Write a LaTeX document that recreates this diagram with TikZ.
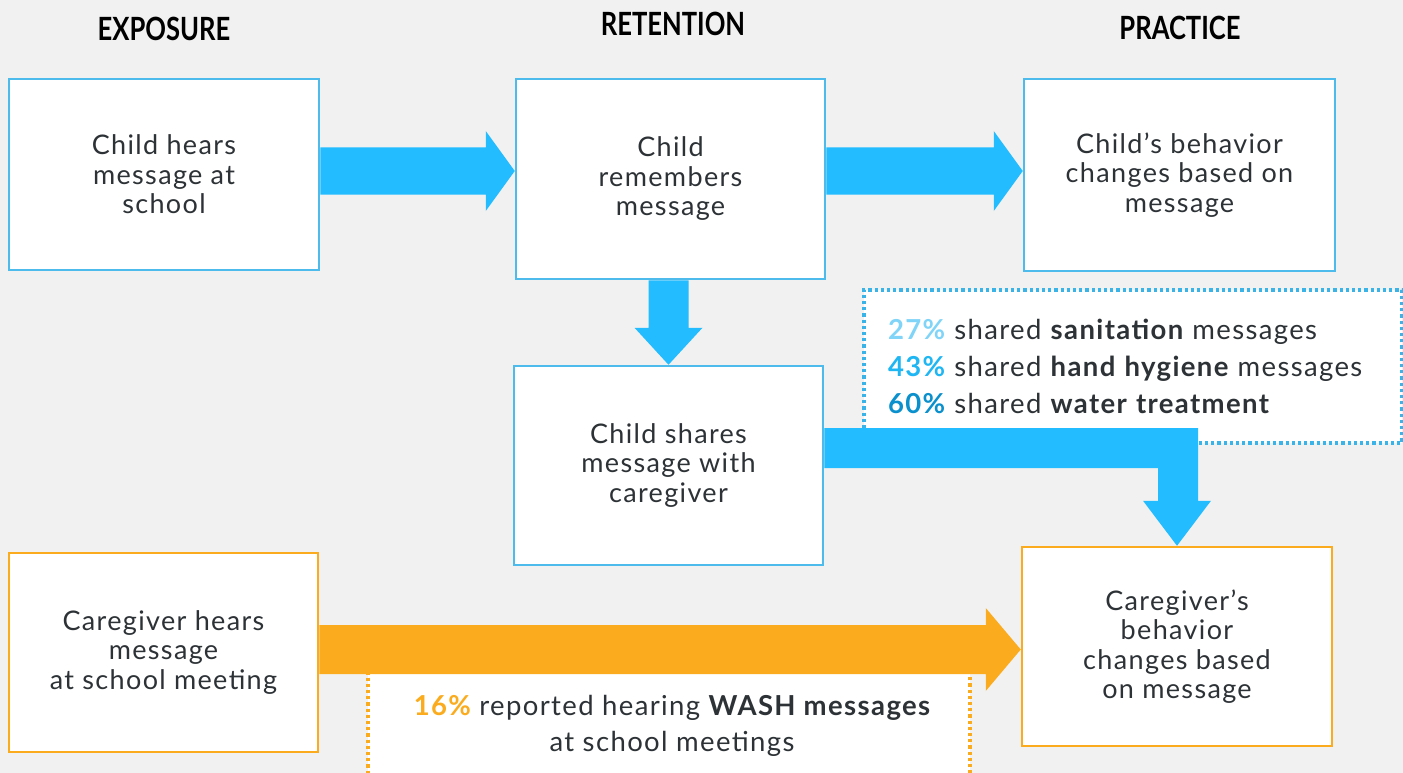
\documentclass[tikz,border=0pt]{standalone}
\usepackage{fontspec}
\usepackage{graphicx}
\setmainfont{Lato}
\newfontfamily\bodyfont[LetterSpace=5]{Lato}
\usetikzlibrary{calc}

\definecolor{bg}{HTML}{F1F1F1}
\definecolor{boxblue}{HTML}{4DBBEB}
\definecolor{dotblue}{HTML}{3AB3E8}
\definecolor{arrowblue}{HTML}{22BCFF}
\definecolor{orng}{HTML}{FBAC1E}
\definecolor{ink}{HTML}{2D3236}
\definecolor{pctA}{HTML}{80D4F8}
\definecolor{pctB}{HTML}{1FB6F4}
\definecolor{pctC}{HTML}{0A90CC}

\tikzset{
  stagebox/.style={draw, line width=2.5pt, fill=white, inner sep=0pt,
    align=center, text=ink, font=\bodyfont\fontsize{27}{29.5}\selectfont},
  bluebox/.style={stagebox, draw=boxblue},
  orangebox/.style={stagebox, draw=orng},
  heading/.style={text=black, font=\fontsize{32}{34}\selectfont\bfseries},
  notebox/.style={fill=white, line width=3.2pt, dash pattern=on 3.2pt off 3pt},
}

% horizontal block arrow: start, end, shaft half-width, head half-width, head length, colour
\newcommand{\flowright}[6]{%
  \fill[#6] let \p1=(#1), \p2=(#2) in
    (\x1,\y1+#3) -- (\x2-#5,\y1+#3) -- (\x2-#5,\y1+#4) -- (\x2,\y1)
    -- (\x2-#5,\y1-#4) -- (\x2-#5,\y1-#3) -- (\x1,\y1-#3) -- cycle;}
% downward block arrow
\newcommand{\flowdown}[6]{%
  \fill[#6] let \p1=(#1), \p2=(#2) in
    (\x1-#3,\y1) -- (\x1-#3,\y2+#5) -- (\x1-#4,\y2+#5) -- (\x1,\y2)
    -- (\x1+#4,\y2+#5) -- (\x1+#3,\y2+#5) -- (\x1+#3,\y1) -- cycle;}

\begin{document}
\begin{tikzpicture}[x=1pt,y=-1pt]
\useasboundingbox (0,0) rectangle (1403,773);
\clip (0,0) rectangle (1403,773);
\fill[bg] (0,0) rectangle (1403,773);

% column headings
\node[heading] (hexp) at (164,29) {\scalebox{0.8}[1]{EXPOSURE}};
\node[heading] (hret) at (673,24) {\scalebox{0.8}[1]{RETENTION}};
\node[heading] (hpra) at (1180,28) {\scalebox{0.8}[1]{PRACTICE}};

% stage boxes
\node[bluebox, minimum width=310, minimum height=191] (b1) at (164,174.5)
  {Child hears\\message at\\school};
\node[bluebox, minimum width=309, minimum height=200] (b2) at (670.5,179)
  {Child\\remembers\\message};
\node[bluebox, minimum width=311, minimum height=192] (b3) at (1179.5,175)
  {Child’s behavior\\changes based on\\message};
\node[bluebox, minimum width=309, minimum height=199] (b4) at (668.5,465.5)
  {Child shares\\message with\\caregiver};
\node[orangebox, minimum width=310, minimum height=199] (b5) at (1177,646.5)
  {Caregiver’s\\behavior\\changes based\\on message};
\node[orangebox, minimum width=309, minimum height=199] (b6) at (163.5,652.5)
  {Caregiver hears\\message\\at school meeting};

% sharing statistics
\node[notebox, draw=dotblue, minimum width=538, minimum height=153,
      text width=490, align=left, text=ink, font=\bodyfont\fontsize{27.5}{37}\selectfont]
  (stats) at (1133,366.5)
  {{\bfseries\color{pctA}27\%} shared {\bfseries sanitation} messages\\
   {\bfseries\color{pctB}43\%} shared {\bfseries hand hygiene} messages\\
   {\bfseries\color{pctC}60\%} shared {\bfseries water treatment}};

% school meeting statistic
\node[notebox, draw=orng, minimum width=602, minimum height=140] (wash) at (669,740) {};
\node[align=center, text=ink, font=\bodyfont\fontsize{27.5}{36}\selectfont] (washtxt) at (672,726)
  {{\bfseries\color{orng}16\%} reported hearing {\bfseries WASH messages}\\at school meetings};

% connectors
\coordinate (a1s) at ($(b1.east)+(0,-3.5)$);
\coordinate (a1e) at (a1s -| b2.west);
\coordinate (a2s) at (b2.east |- a1s);
\coordinate (a2e) at (a1s -| b3.west);
\flowright{a1s}{a1e}{23.5}{40}{29}{arrowblue}
\flowright{a2s}{a2e}{23.5}{40}{29}{arrowblue}

\coordinate (dns) at (b4.north |- b2.south);
\flowdown{dns}{b4.north}{20}{34}{37}{arrowblue}

% child shares -> caregiver behaviour (elbow)
\coordinate (els) at ($(b4.east)+(0,-17.5)$);
\fill[arrowblue] let \p1=(els), \p2=(b5.north) in
  (\x1,\y1+20) -- (\x2+21,\y1+20) -- (\x2+21,\y2+45) -- (\x2+34,\y2+45)
  -- (\x2,\y2) -- (\x2-34,\y2+45) -- (\x2-19,\y2+45) -- (\x2-19,\y1-20)
  -- (\x1,\y1-20) -- cycle;

% caregiver hears -> caregiver behaviour
\coordinate (ors) at ($(b6.east)+(0,-3)$);
\coordinate (ore) at (ors -| b5.west);
\flowright{ors}{ore}{24.5}{41.5}{35}{orng}
\end{tikzpicture}
\end{document}
